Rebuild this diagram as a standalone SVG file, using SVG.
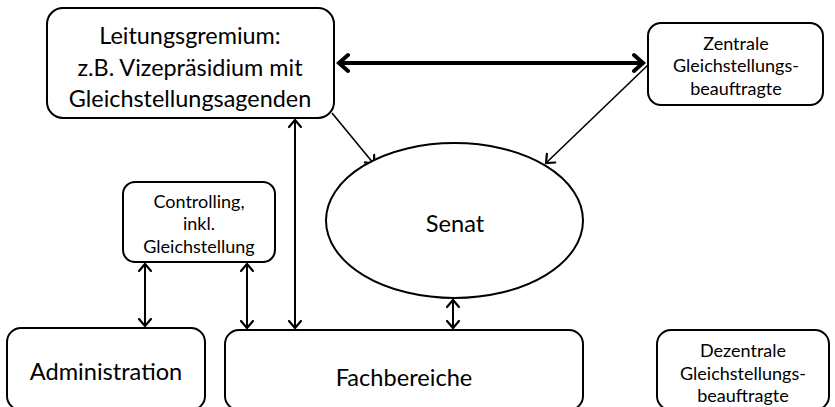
<svg xmlns="http://www.w3.org/2000/svg" width="835" height="407" viewBox="0 0 835 407">
<style>
.box{fill:#fff;stroke:#000;stroke-width:2}
.t{font-family:Lato,"Open Sans","Liberation Sans",sans-serif;fill:#000;text-anchor:middle}
.big{font-size:23.4px}
.mid{font-size:23.6px}
.sm{font-size:18px}
.c{fill:none;stroke:#000}
.thin{stroke-width:1.6}
.med{stroke-width:2}
.thick{stroke-width:4}
</style>
<defs>
<marker id="ah" markerUnits="userSpaceOnUse" viewBox="-12 -10 14 20" markerWidth="14" markerHeight="20" refX="0" refY="0" orient="auto-start-reverse">
<path d="M-7,-6 L0,0 L-7,6" fill="none" stroke="#000" stroke-width="2.2" stroke-linecap="round" stroke-linejoin="miter"/>
</marker>
<marker id="ahb" markerUnits="userSpaceOnUse" viewBox="-14 -12 16 24" markerWidth="16" markerHeight="24" refX="0" refY="0" orient="auto-start-reverse">
<path d="M-10,-8 L-1,0 L-10,8" fill="none" stroke="#000" stroke-width="4" stroke-linecap="round" stroke-linejoin="miter"/>
</marker>
</defs>
<g id="connectors">
<line class="c thick" x1="338" y1="63" x2="644" y2="63" marker-start="url(#ahb)" marker-end="url(#ahb)"/>
<line class="c thin" x1="648" y1="65" x2="546" y2="163" marker-end="url(#ah)"/>
<line class="c thin" x1="332" y1="113" x2="374" y2="164" marker-end="url(#ah)"/>
<line class="c med" x1="295" y1="120" x2="295" y2="328" marker-start="url(#ah)" marker-end="url(#ah)"/>
<line class="c med" x1="145" y1="264" x2="145" y2="326" marker-start="url(#ah)" marker-end="url(#ah)"/>
<line class="c med" x1="247" y1="264" x2="247" y2="328" marker-start="url(#ah)" marker-end="url(#ah)"/>
<line class="c med" x1="453" y1="300" x2="453" y2="328" marker-start="url(#ah)" marker-end="url(#ah)"/>
</g>
<g id="leitungsgremium">
<rect class="box" x="47" y="8" width="287" height="110" rx="16"/>
<text class="t big" x="190" y="44">Leitungsgremium:</text>
<text class="t big" x="190" y="76">z.B. Vizepräsidium mit</text>
<text class="t big" x="190" y="107">Gleichstellungsagenden</text>
</g>
<g id="zentrale">
<rect class="box" x="648" y="23" width="175" height="82" rx="13"/>
<text class="t sm" x="736" y="50">Zentrale</text>
<text class="t sm" x="736" y="72">Gleichstellungs-</text>
<text class="t sm" x="736" y="95">beauftragte</text>
</g>
<g id="senat">
<ellipse class="box" cx="454.5" cy="220.5" rx="128.5" ry="77.5"/>
<text class="t mid" x="455" y="232">Senat</text>
</g>
<g id="controlling">
<rect class="box" x="123" y="182" width="152" height="80" rx="12"/>
<text class="t sm" x="199" y="208">Controlling,</text>
<text class="t sm" x="199" y="230">inkl.</text>
<text class="t sm" x="199" y="253">Gleichstellung</text>
</g>
<g id="administration">
<rect class="box" x="7" y="328" width="198" height="82" rx="14"/>
<text class="t mid" x="106" y="380">Administration</text>
</g>
<g id="fachbereiche">
<rect class="box" x="225" y="330" width="358" height="80" rx="14"/>
<text class="t mid" x="404" y="386">Fachbereiche</text>
</g>
<g id="dezentrale">
<rect class="box" x="657" y="330" width="172" height="80" rx="14"/>
<text class="t sm" x="743" y="357">Dezentrale</text>
<text class="t sm" x="743" y="380">Gleichstellungs-</text>
<text class="t sm" x="743" y="402">beauftragte</text>
</g>
</svg>
